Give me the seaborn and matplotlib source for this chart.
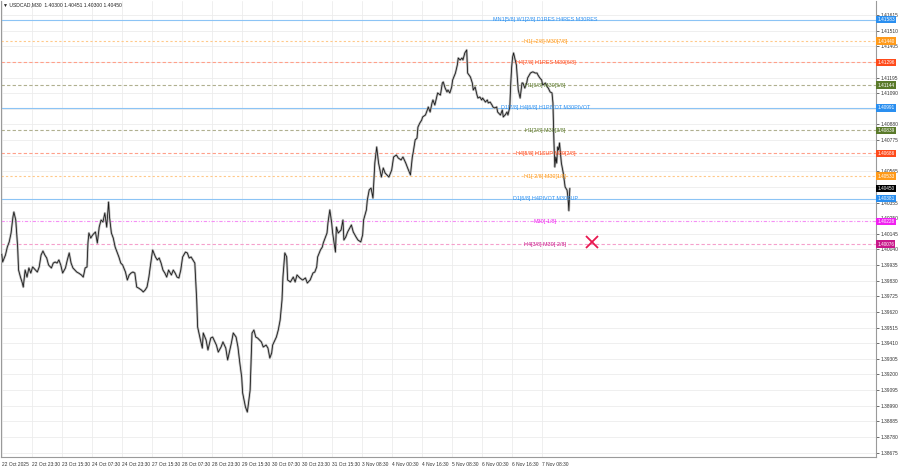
import numpy as np
import pandas as pd
import seaborn as sns
import matplotlib.pyplot as plt

# USDCAD M30, close prices (bar = bar number from the first visible bar)
bar = [0, 1, 4, 6, 8, 10, 12, 13, 15, 17, 18, 20, 22, 23, 25, 27, 29, 31, 33, 36,
       38, 40, 42, 44, 46, 48, 50, 53, 55, 57, 59, 61, 63, 65, 68, 70, 72, 74, 76, 78,
       80, 82, 85, 87, 89, 91, 92, 93, 95, 97, 100, 102, 104, 106, 108, 110, 112, 114, 115, 117,
       119, 121, 123, 125, 127, 129, 132, 134, 136, 138, 140, 142, 144, 146, 149, 151, 153, 155, 157, 159,
       161, 164, 166, 168, 170, 172, 174, 176, 178, 181, 183, 185, 187, 189, 191, 193, 196, 198, 200, 202,
       204, 206,
       208, 209, 212, 214, 215, 218, 220, 223, 225, 229, 231, 234, 236, 239, 241, 245, 247, 250, 252, 254,
       256, 257, 260, 262, 263, 265, 266, 267, 269, 271, 273, 277, 279, 282, 284, 286, 288, 289, 293, 295,
       297, 299, 300, 302, 304, 305, 308, 311, 313, 315, 318, 321, 324, 326, 329, 332, 334, 336, 337, 340,
       342, 343, 345, 347, 348, 350, 352, 353, 356, 357, 359, 362, 364, 365, 367, 369, 373, 375, 378, 380,
       383, 385, 386, 389, 390, 392, 394, 396, 398, 400, 402, 405, 407, 409, 411, 413,
       416, 418, 421, 423, 426, 428, 431, 433, 436, 438, 439, 441, 443, 444, 446, 448, 449, 452, 454, 455,
       457, 459, 460, 462, 464, 465, 468, 470, 471, 473, 475, 476, 478, 480, 481, 484, 486, 487, 489, 491,
       492, 494, 496, 497, 500, 502, 503, 505, 507, 508, 510, 512, 513, 516, 518, 519, 521, 523, 524, 526,
       528, 529, 532, 534, 535, 537, 539, 540, 542, 543, 544, 545, 546, 549, 550, 551, 553, 555, 556, 558,
       560, 561, 564, 566, 567, 569, 571, 572, 574, 576, 577, 580, 582, 583, 585, 587, 588, 589, 590, 591,
       592, 593, 594, 595, 597, 599, 600, 601, 603, 604, 605, 606]

close = [1.40009, 1.39955, 1.40002, 1.40056, 1.40090, 1.40150, 1.40258, 1.40291, 1.40237, 1.40056,
         1.39901, 1.39854, 1.39814, 1.39787, 1.39901, 1.39854, 1.39915, 1.39881, 1.39922, 1.39901,
         1.39888, 1.39922, 1.40002, 1.40029, 1.40002, 1.39982, 1.39935, 1.39915, 1.39948, 1.39955,
         1.39948, 1.39969, 1.39935, 1.39881, 1.39915, 1.39969, 1.40016, 1.39948, 1.39915, 1.39901,
         1.39888, 1.39881, 1.39868, 1.39854, 1.39915, 1.39922, 1.40083, 1.40150, 1.40116, 1.40137,
         1.40157, 1.40083, 1.40190, 1.40237, 1.40224, 1.40284, 1.40190, 1.40358, 1.40258, 1.40150,
         1.40116, 1.40056, 1.40022, 1.39989, 1.39948, 1.39935, 1.39888, 1.39834, 1.39868, 1.39881,
         1.39888, 1.39881, 1.39787, 1.39780, 1.39767, 1.39754, 1.39767, 1.39787, 1.39854, 1.39948,
         1.40036, 1.39989, 1.39969, 1.39982, 1.39948, 1.39901, 1.39881, 1.39854, 1.39901, 1.39868,
         1.39901, 1.39881, 1.39854, 1.39848, 1.39901, 1.39989, 1.40022, 1.40016, 1.39982, 1.39989,
         1.39969, 1.39948,
         1.39700, 1.39518, 1.39431, 1.39377, 1.39478, 1.39431, 1.39364, 1.39444, 1.39451, 1.39397,
         1.39350, 1.39384, 1.39418, 1.39377, 1.39297, 1.39411, 1.39478, 1.39451, 1.39384, 1.39276,
         1.39182, 1.39075, 1.38981, 1.38947, 1.38994, 1.39095, 1.39297, 1.39478, 1.39498, 1.39451,
         1.39444, 1.39418, 1.39384, 1.39397, 1.39377, 1.39310, 1.39344, 1.39397, 1.39451, 1.39498,
         1.39565, 1.39700, 1.39854, 1.40016, 1.39989, 1.39834, 1.39821, 1.39854, 1.39821, 1.39868,
         1.39848, 1.39834, 1.39848, 1.39814, 1.39834, 1.39881, 1.39888, 1.39922, 1.39989, 1.40036,
         1.40056, 1.40083, 1.40116, 1.40150, 1.40217, 1.40305, 1.40217, 1.40150, 1.40022, 1.40190,
         1.40150, 1.40170, 1.40237, 1.40103, 1.40123, 1.40157, 1.40204, 1.40157, 1.40123, 1.40103,
         1.40090, 1.40137, 1.40237, 1.40305, 1.40372, 1.40439, 1.40452, 1.40385, 1.40620, 1.40728,
         1.40620, 1.40526, 1.40587, 1.40553, 1.40540, 1.40526,
         1.40573, 1.40661, 1.40674, 1.40654, 1.40641, 1.40661, 1.40620, 1.40587, 1.40540, 1.40661,
         1.40694, 1.40775, 1.40788, 1.40862, 1.40889, 1.40909, 1.40930, 1.40943, 1.40977, 1.40997,
         1.40963, 1.41024, 1.41044, 1.41010, 1.41064, 1.41091, 1.41077, 1.41158, 1.41165, 1.41124,
         1.41098, 1.41111, 1.41091, 1.41131, 1.41178, 1.41225, 1.41279, 1.41326, 1.41313, 1.41326,
         1.41313, 1.41360, 1.41380, 1.41225, 1.41198, 1.41158, 1.41111, 1.41131, 1.41077, 1.41057,
         1.41064, 1.41044, 1.41057, 1.41030, 1.41044, 1.41024, 1.41030, 1.41010, 1.40997, 1.40990,
         1.40997, 1.40963, 1.40943, 1.40977, 1.40930, 1.40943, 1.40963, 1.40943, 1.40997, 1.41158,
         1.41266, 1.41333, 1.41360, 1.41279, 1.41198, 1.41111, 1.41057, 1.41158, 1.41158, 1.41124,
         1.41158, 1.41192, 1.41225, 1.41232, 1.41232, 1.41225, 1.41225, 1.41212, 1.41192, 1.41178,
         1.41145, 1.41158, 1.41131, 1.41124, 1.41098, 1.41091, 1.41024, 1.40775, 1.40594, 1.40661,
         1.40620, 1.40728, 1.40708, 1.40755, 1.40620, 1.40553, 1.40506, 1.40459, 1.40439, 1.40392,
         1.40300, 1.40450]

time_labels = ["22 Oct 2025", "22 Oct 23:30", "23 Oct 15:30", "24 Oct 07:30", "24 Oct 23:30",
               "27 Oct 15:30", "28 Oct 07:30", "28 Oct 23:30", "29 Oct 15:30", "30 Oct 07:30",
               "30 Oct 23:30", "31 Oct 15:30", "3 Nov 08:30", "4 Nov 00:30", "4 Nov 16:30",
               "5 Nov 08:30", "6 Nov 00:30", "6 Nov 16:30", "7 Nov 08:30"]
bars_per_label = 32

level_prices = [1.41583, 1.41440, 1.41296, 1.41144, 1.40991, 1.40839,
                1.40686, 1.40533, 1.40381, 1.40228, 1.40076]
level_names = ["MN1[5/8] W1[2/8] D1RES H4RES M30RES", "H1[+2/8] M30[7/8]",
               "H4[7/8] H1RES M30[6/8]", "H1[6/8] M30[5/8]",
               "D1[7/8] H4[6/8] H1PIVOT M30PIVOT", "H1[2/8] M30[3/8]",
               "H4[5/8] H1SUP M30[2/8]", "H1[-2/8] M30[1/8]",
               "D1[6/8] H4PIVOT M30SUP", "M30[-1/8]", "H4[3/8] M30[-2/8]"]
level_kinds = ["blue", "orange", "red", "olive", "blue", "olive",
               "red", "orange", "blue", "magenta", "pink"]

current_price = 1.40450
title = "\u25bc USDCAD,M30  1.40300 1.40451 1.40300 1.40450"
signal_bar, signal_price = 630, 1.40090

# kind -> (text/box colour, line colour, line style)
styles = {
    "blue": ("#2a8ff0", "#8cc4f5", "-"),
    "orange": ("#ff9a1a", "#ffc98a", (0, (2, 2))),
    "red": ("#ff4a1a", "#ffa08a", (0, (3, 2))),
    "olive": ("#5a7a2a", "#b0b090", (0, (3, 2))),
    "magenta": ("#f020f0", "#f590f5", (0, (3, 1.5, 1, 1.5))),
    "pink": ("#c8188a", "#f5a0cc", (0, (3, 2))),
}

sns.set_theme(style="white")
plt.rcParams["font.family"] = ["Liberation Sans", "DejaVu Sans"]

fig = plt.figure(figsize=(9, 4.68), dpi=100)
ax = fig.add_axes([1 / 900, 11 / 468, 875 / 900, 456 / 468])

df = pd.DataFrame({"bar": bar, "close": close})
sns.lineplot(data=df, x="bar", y="close", color="#bdbdbd", lw=1.7,
             estimator=None, sort=False, ax=ax, zorder=3)
sns.lineplot(data=df, x="bar", y="close", color="#1a1a1a", lw=0.6,
             estimator=None, sort=False, ax=ax, zorder=4)

boxed = level_prices + [current_price]
for p, name, kind in zip(level_prices, level_names, level_kinds):
    tc, lc, ls = styles[kind]
    ax.axhline(p, color=lc, lw=0.8, ls=ls, zorder=2)
    ax.text(580, p, name, color=tc, fontsize=3.9, ha="center", va="center", zorder=5)
    ax.text(1.0015, p, f"{p:.5f}", transform=ax.get_yaxis_transform(), fontsize=3.4,
            color="white", ha="left", va="center", zorder=6,
            bbox=dict(boxstyle="square,pad=0.25", fc=tc, ec="none"))

ax.text(1.0015, current_price, f"{current_price:.5f}", transform=ax.get_yaxis_transform(),
        fontsize=3.4, color="white", ha="left", va="center", zorder=6,
        bbox=dict(boxstyle="square,pad=0.25", fc="black", ec="none"))

ax.plot(signal_bar, signal_price, marker="x", ms=9, mew=1.3, color="#e8174f", zorder=6)

ax.set_xlim(-0.75, 932.6)
ax.set_ylim(1.386448, 1.417091)

# price scale; labels hidden behind the coloured price boxes are left blank
yt = [round(1.41615 - 0.00105 * k, 5) for k in range(29)]
ylabels = []
for v in yt:
    if min(abs(v - b) for b in boxed) < 0.0002:
        ylabels.append("")
    else:
        ylabels.append(f"{v:.5f}")
ax.yaxis.tick_right()
ax.set_yticks(yt)
ax.set_yticklabels(ylabels)
ax.set_xticks([bars_per_label * i for i in range(len(time_labels))])
ax.set_xticklabels(time_labels, ha="left")
ax.tick_params(axis="both", labelsize=3.5, colors="#333333", length=2, width=0.5, pad=1.5)
ax.tick_params(axis="y", pad=1.5)
ax.set_xlabel("")
ax.set_ylabel("")
ax.grid(True, color="#ececec", lw=0.6)
ax.set_axisbelow(True)
for side in ["left", "right", "bottom"]:
    ax.spines[side].set_color("#9a9a9a")
    ax.spines[side].set_linewidth(0.8)
ax.spines["top"].set_visible(False)

fig.text(3 / 900, 1 - 5 / 468, title, fontsize=3.6, va="center", ha="left", color="#222222")

fig.savefig("out.png", dpi=100)
